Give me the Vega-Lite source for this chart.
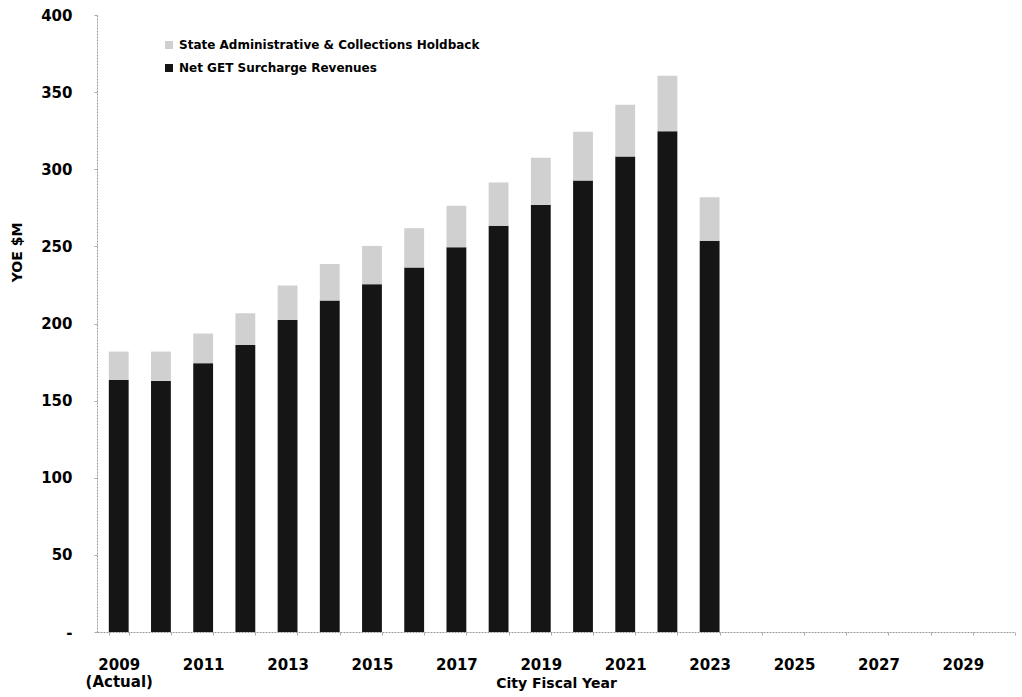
{
  "$schema": "https://vega.github.io/schema/vega-lite/v6.json",
  "width": 918,
  "height": 617,
  "autosize": {"type": "none"},
  "padding": {"left": 97, "top": 15, "right": 7, "bottom": 65},
  "background": "white",
  "config": {
    "view": {"stroke": null},
    "font": "DejaVu Sans"
  },
  "data": {
    "values": [
      {"year": 2009, "series": "Net GET Surcharge Revenues", "value": 163.4},
      {"year": 2009, "series": "State Administrative & Collections Holdback", "value": 18.4},
      {"year": 2010, "series": "Net GET Surcharge Revenues", "value": 162.8},
      {"year": 2010, "series": "State Administrative & Collections Holdback", "value": 19.0},
      {"year": 2011, "series": "Net GET Surcharge Revenues", "value": 174.3},
      {"year": 2011, "series": "State Administrative & Collections Holdback", "value": 19.2},
      {"year": 2012, "series": "Net GET Surcharge Revenues", "value": 186.1},
      {"year": 2012, "series": "State Administrative & Collections Holdback", "value": 20.6},
      {"year": 2013, "series": "Net GET Surcharge Revenues", "value": 202.3},
      {"year": 2013, "series": "State Administrative & Collections Holdback", "value": 22.3},
      {"year": 2014, "series": "Net GET Surcharge Revenues", "value": 214.9},
      {"year": 2014, "series": "State Administrative & Collections Holdback", "value": 23.7},
      {"year": 2015, "series": "Net GET Surcharge Revenues", "value": 225.5},
      {"year": 2015, "series": "State Administrative & Collections Holdback", "value": 24.8},
      {"year": 2016, "series": "Net GET Surcharge Revenues", "value": 236.3},
      {"year": 2016, "series": "State Administrative & Collections Holdback", "value": 25.5},
      {"year": 2017, "series": "Net GET Surcharge Revenues", "value": 249.5},
      {"year": 2017, "series": "State Administrative & Collections Holdback", "value": 26.8},
      {"year": 2018, "series": "Net GET Surcharge Revenues", "value": 263.3},
      {"year": 2018, "series": "State Administrative & Collections Holdback", "value": 28.1},
      {"year": 2019, "series": "Net GET Surcharge Revenues", "value": 276.9},
      {"year": 2019, "series": "State Administrative & Collections Holdback", "value": 30.5},
      {"year": 2020, "series": "Net GET Surcharge Revenues", "value": 292.7},
      {"year": 2020, "series": "State Administrative & Collections Holdback", "value": 31.6},
      {"year": 2021, "series": "Net GET Surcharge Revenues", "value": 308.3},
      {"year": 2021, "series": "State Administrative & Collections Holdback", "value": 33.5},
      {"year": 2022, "series": "Net GET Surcharge Revenues", "value": 324.6},
      {"year": 2022, "series": "State Administrative & Collections Holdback", "value": 36.0},
      {"year": 2023, "series": "Net GET Surcharge Revenues", "value": 253.6},
      {"year": 2023, "series": "State Administrative & Collections Holdback", "value": 28.2}
    ]
  },
  "mark": {"type": "bar"},
  "encoding": {
    "x": {
      "field": "year",
      "type": "ordinal",
      "scale": {
        "domain": [2009, 2010, 2011, 2012, 2013, 2014, 2015, 2016, 2017, 2018, 2019, 2020, 2021, 2022, 2023, 2024, 2025, 2026, 2027, 2028, 2029, 2030],
        "paddingInner": 0.53,
        "paddingOuter": 0.14,
        "align": 1
      },
      "axis": {
        "title": "City Fiscal Year",
        "titleFont": "DejaVu Sans",
        "titleFontSize": 14,
        "titleFontWeight": "bold",
        "titleColor": "#000",
        "titleY": 51,
        "titleBaseline": "middle",
        "labelAngle": 0,
        "labelFont": "DejaVu Sans",
        "labelFontSize": 15,
        "labelFontWeight": "bold",
        "labelColor": "#000",
        "labelPadding": 22,
        "labelOverlap": false,
        "labelExpr": "datum.value == 2009 ? ['2009', '(Actual)'] : (datum.value % 2 == 1 ? datum.label : '')",
        "ticks": true,
        "tickSize": 3,
        "tickColor": "#aaa",
        "tickBand": "extent",
        "domainColor": "#999",
        "domainDash": [2, 1],
        "grid": false
      }
    },
    "y": {
      "field": "value",
      "type": "quantitative",
      "stack": "zero",
      "scale": {"domain": [0, 400], "nice": false},
      "axis": {
        "title": "YOE $M",
        "titleFont": "DejaVu Sans",
        "titleFontSize": 14,
        "titleFontWeight": "bold",
        "titleColor": "#000",
        "titleAngle": 270,
        "titleX": -80,
        "titleY": 237,
        "titleAlign": "center",
        "titleBaseline": "middle",
        "values": [0, 50, 100, 150, 200, 250, 300, 350, 400],
        "labelExpr": "datum.value == 0 ? '-' : datum.label",
        "labelFont": "DejaVu Sans",
        "labelFontSize": 15,
        "labelFontWeight": "bold",
        "labelColor": "#000",
        "labelPadding": 22,
        "ticks": true,
        "tickSize": 3,
        "tickColor": "#aaa",
        "domainColor": "#999",
        "domainDash": [2, 1],
        "grid": false
      }
    },
    "color": {
      "field": "series",
      "type": "nominal",
      "scale": {
        "domain": ["State Administrative & Collections Holdback", "Net GET Surcharge Revenues"],
        "range": ["#d0d0d0", "#151515"]
      },
      "legend": {
        "title": null,
        "orient": "none",
        "legendX": 66,
        "legendY": 24,
        "symbolType": "square",
        "symbolSize": 64,
        "symbolStrokeWidth": 0,
        "labelFont": "DejaVu Sans",
        "labelFontSize": 12,
        "labelFontWeight": "bold",
        "labelColor": "#000",
        "labelOffset": 4,
        "labelLimit": 500,
        "rowPadding": 11
      }
    },
    "order": {"field": "series", "sort": "ascending"}
  }
}
